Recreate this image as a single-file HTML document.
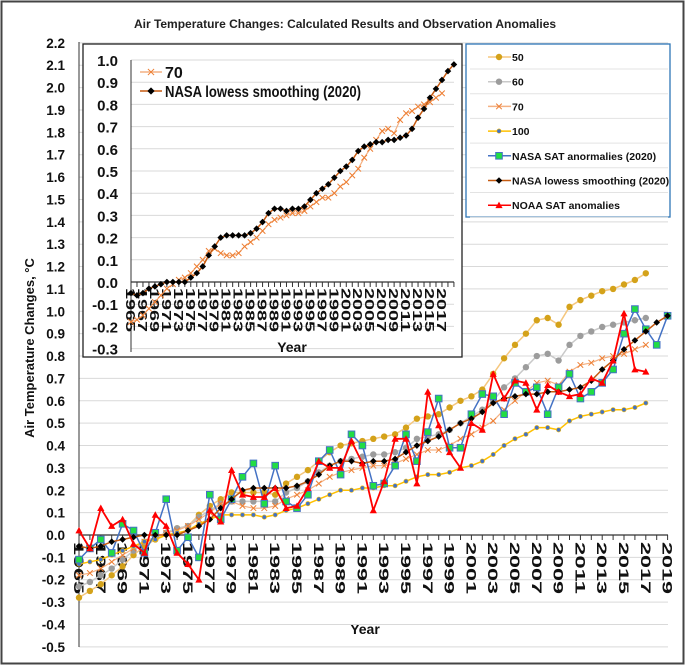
<!DOCTYPE html>
<html><head><meta charset="utf-8"><style>
html,body{margin:0;padding:0;background:#fff}
svg{display:block;font-family:"Liberation Sans",Arial,sans-serif}
</style></head><body>
<svg id="chart" width="685" height="665" viewBox="0 0 685 665" xmlns="http://www.w3.org/2000/svg">
<rect x="1.5" y="1.5" width="682" height="662" fill="#fff" stroke="#444" stroke-width="2"/>
<text x="345" y="28" text-anchor="middle" font-size="12" font-weight="bold" fill="#222">Air Temperature Changes: Calculated Results and Observation Anomalies</text>
<text transform="translate(34,348) rotate(-90)" text-anchor="middle" font-size="13" font-weight="bold" fill="#111">Air Temperature Changes, °C</text>
<text x="365" y="634" text-anchor="middle" font-size="14" font-weight="bold" fill="#111">Year</text>
<g id="main"></g>
<g id="inset"></g>
<g id="legend"></g>
</svg>
<script>
const s50 = [-0.28,-0.25,-0.22,-0.18,-0.14,-0.09,-0.05,-0.02,0.01,0.03,0.04,0.09,0.13,0.16,0.19,0.19,0.19,0.19,0.18,0.23,0.26,0.29,0.33,0.37,0.40,0.41,0.42,0.43,0.44,0.45,0.48,0.52,0.53,0.54,0.57,0.60,0.62,0.65,0.72,0.79,0.85,0.90,0.96,0.97,0.94,1.02,1.05,1.07,1.09,1.10,1.12,1.14,1.17];
const s60 = [-0.23,-0.21,-0.18,-0.15,-0.11,-0.07,-0.03,-0.01,0.01,0.03,0.04,0.08,0.11,0.14,0.15,0.15,0.15,0.15,0.15,0.19,0.21,0.24,0.28,0.31,0.33,0.34,0.35,0.36,0.36,0.37,0.39,0.43,0.44,0.45,0.47,0.50,0.53,0.56,0.60,0.66,0.70,0.75,0.80,0.81,0.78,0.85,0.89,0.91,0.93,0.94,0.95,0.96,0.97];
const s70 = [-0.18,-0.17,-0.15,-0.12,-0.09,-0.06,-0.03,-0.01,0.01,0.02,0.04,0.07,0.10,0.14,0.15,0.13,0.12,0.12,0.13,0.16,0.18,0.20,0.23,0.26,0.28,0.29,0.30,0.31,0.31,0.32,0.34,0.36,0.38,0.38,0.40,0.43,0.45,0.48,0.51,0.56,0.60,0.64,0.68,0.69,0.67,0.73,0.76,0.77,0.79,0.80,0.81,0.83,0.85];
const s100 = [-0.13,-0.12,-0.11,-0.09,-0.07,-0.05,-0.03,-0.02,0.00,0.01,0.02,0.05,0.07,0.09,0.09,0.09,0.09,0.08,0.09,0.11,0.12,0.14,0.16,0.18,0.20,0.20,0.21,0.21,0.22,0.22,0.24,0.26,0.27,0.27,0.28,0.30,0.31,0.33,0.36,0.40,0.43,0.45,0.48,0.48,0.47,0.51,0.53,0.54,0.55,0.56,0.56,0.57,0.59];
const nasaSat = [-0.11,-0.06,-0.02,-0.08,0.05,0.02,-0.08,0.01,0.16,-0.07,-0.01,-0.10,0.18,0.07,0.16,0.26,0.32,0.14,0.31,0.15,0.12,0.18,0.33,0.38,0.27,0.45,0.40,0.22,0.23,0.31,0.45,0.33,0.46,0.61,0.39,0.39,0.54,0.63,0.62,0.54,0.68,0.64,0.66,0.54,0.66,0.72,0.61,0.64,0.68,0.74,0.90,1.01,0.92,0.85,0.98];
const lowess = [-0.05,-0.06,-0.05,-0.03,-0.02,-0.01,0.00,0.00,0.00,0.00,0.02,0.04,0.07,0.12,0.16,0.20,0.21,0.21,0.21,0.21,0.22,0.24,0.27,0.31,0.33,0.33,0.32,0.33,0.33,0.34,0.37,0.40,0.42,0.44,0.47,0.50,0.52,0.55,0.59,0.61,0.62,0.63,0.63,0.64,0.64,0.65,0.66,0.69,0.74,0.78,0.83,0.87,0.91,0.95,0.98];
const noaa = [0.02,-0.06,0.12,0.04,0.07,-0.04,-0.08,0.09,0.04,-0.08,-0.13,-0.20,0.11,0.06,0.29,0.18,0.17,0.17,0.21,0.12,0.13,0.21,0.33,0.30,0.30,0.42,0.32,0.11,0.24,0.43,0.43,0.23,0.64,0.49,0.37,0.30,0.50,0.47,0.72,0.61,0.69,0.68,0.56,0.67,0.64,0.62,0.63,0.70,0.68,0.78,0.99,0.74,0.73];
const yTicksMain = [2.2,2.1,2.0,1.9,1.8,1.7,1.6,1.5,1.4,1.3,1.2,1.1,1.0,0.9,0.8,0.7,0.6,0.5,0.4,0.3,0.2,0.1,0.0,-0.1,-0.2,-0.3,-0.4,-0.5];
const yTicksInset = [1.0,0.9,0.8,0.7,0.6,0.5,0.4,0.3,0.2,0.1,0.0,-0.1,-0.2,-0.3];
const xStart = 1965, xEnd = 2019;

const NS = "http://www.w3.org/2000/svg";
function mk(tag, attrs, parent){const e=document.createElementNS(NS,tag);for(const k in attrs)e.setAttribute(k,attrs[k]);parent.appendChild(e);return e;}
const X = yr => 79 + (yr - 1965) * 10.9;
const Y = v => 535 - v * 223.7;
const XI = yr => 131 + (yr - 1965) * 5.98;
const YI = v => 282 - v * 222;

const main = document.getElementById('main');
yTicksMain.forEach(v=>{
  const g = mk('line',{x1:79,x2:668,y1:Y(v),y2:Y(v),stroke:'#d9d9d9','stroke-width':1},main);
  
  
  const t = mk('text',{x:65,y:Y(v)+5,'text-anchor':'end','font-size':13.5,'font-weight':'bold',fill:'#111'},main);
  t.textContent = v.toFixed(1);
  
  
});
mk('line',{x1:79,x2:79,y1:42,y2:647,stroke:'#333','stroke-width':1},main);
mk('line',{x1:79,x2:668,y1:535,y2:535,stroke:'#333','stroke-width':1.3},main);
for(let yr=xStart; yr<=xEnd; yr++){
  mk('line',{x1:X(yr),x2:X(yr),y1:535,y2:540,stroke:'#333'},main);
  if((yr-xStart)%2===0){
    const t = mk('text',{transform:`translate(${X(yr)-5},542) rotate(90)`,'font-size':14,'font-weight':'bold',fill:'#111',textLength:52,lengthAdjust:'spacingAndGlyphs'},main);
    t.textContent = yr;
    
    
  }
}

function marker(type,x,y,parent,sc){
  sc = sc||1;
  if(type==='gold') return mk('circle',{cx:x,cy:y,r:3.2*sc,fill:'#D4A21A'},parent);
  if(type==='gray') return mk('circle',{cx:x,cy:y,r:3.2*sc,fill:'#9c9c9c'},parent);
  if(type==='x'){const s=2.8*sc;return mk('path',{d:`M${x-s},${y-s}L${x+s},${y+s}M${x-s},${y+s}L${x+s},${y-s}`,stroke:'#ED7D31','stroke-width':1},parent);}
  if(type==='dot') return mk('circle',{cx:x,cy:y,r:2.2*sc,fill:'#4472C4',stroke:'#FFC000','stroke-width':0.6},parent);
  if(type==='sq') return mk('rect',{x:x-3.3*sc,y:y-3.3*sc,width:6.6*sc,height:6.6*sc,fill:'#22DD44',stroke:'#4472C4','stroke-width':1},parent);
  if(type==='dia'){const s=3.3*sc;return mk('path',{d:`M${x},${y-s}L${x+s},${y}L${x},${y+s}L${x-s},${y}Z`,fill:'#000'},parent);}
  if(type==='tri'){const s=3.6*sc;return mk('path',{d:`M${x},${y-s}L${x+s},${y+s*0.8}L${x-s},${y+s*0.8}Z`,fill:'#FF0000'},parent);}
}
function series(data, start, xf, yf, color, width, mtype, name, parent, sc){
  const g = mk('g',{},parent);
  
  
  const pts = data.map((v,i)=>`${xf(start+i).toFixed(1)},${yf(v).toFixed(1)}`).join(' ');
  mk('polyline',{points:pts,fill:'none',stroke:color,'stroke-width':width,'stroke-linejoin':'round'},g);
  data.forEach((v,i)=>{const m=marker(mtype,xf(start+i),yf(v),g,sc);
    
    });
}
series(s50,1965,X,Y,'#F5C77E',1.5,'gold','series-50',main);
series(s60,1965,X,Y,'#C9C9C9',1.5,'gray','series-60',main);
series(s70,1965,X,Y,'#F4B183',1.2,'x','series-70',main);
series(s100,1965,X,Y,'#FFC000',1.5,'dot','series-100',main);
series(nasaSat,1965,X,Y,'#4472C4',1.5,'sq','series-nasa-sat',main);
series(lowess,1965,X,Y,'#C55A11',1.5,'dia','series-nasa-lowess',main);
series(noaa,1965,X,Y,'#FF0000',1.8,'tri','series-noaa-sat',main);

const inset = document.getElementById('inset');
const ib = mk('rect',{x:83,y:44,width:379,height:313,fill:'#fff',stroke:'#222','stroke-width':1.3},inset);


yTicksInset.forEach(v=>{
  mk('line',{x1:131,x2:454,y1:YI(v),y2:YI(v),stroke:'#d9d9d9'},inset);
  const t = mk('text',{x:118,y:YI(v)+6,'text-anchor':'end','font-size':15,'font-weight':'bold',fill:'#111'},inset);
  t.textContent = v.toFixed(1);
  
  
});
mk('line',{x1:131,x2:131,y1:60,y2:352,stroke:'#333'},inset);
mk('line',{x1:131,x2:454,y1:282,y2:282,stroke:'#333','stroke-width':1.3},inset);
for(let yr=xStart; yr<=xEnd; yr++){
  mk('line',{x1:XI(yr),x2:XI(yr),y1:282,y2:287,stroke:'#333'},inset);
  if((yr-xStart)%2===0 && yr<=2017){
    const t = mk('text',{transform:`translate(${XI(yr)-5},288) rotate(90)`,'font-size':13,'font-weight':'bold',fill:'#111',textLength:44,lengthAdjust:'spacingAndGlyphs'},inset);
    t.textContent = yr;
    
    
  }
}
const iy = mk('text',{x:292,y:352,'text-anchor':'middle','font-size':14,'font-weight':'bold',fill:'#111'},inset);
iy.textContent='Year';


series(s70,1965,XI,YI,'#F4B183',1.2,'x','inset-series-70',inset);
series(lowess,1965,XI,YI,'#C55A11',1.5,'dia','inset-series-lowess',inset);
[['x','#F4B183','70',72],['dia','#C55A11','NASA lowess smoothing (2020)',91]].forEach(([m,c,l,y])=>{
  const g = mk('g',{},inset);
  
  
  mk('line',{x1:140,x2:162,y1:y,y2:y,stroke:c,'stroke-width':1.5},g);
  marker(m,151,y,g,1.1);
  const t = mk('text',{x:165,y:y+6,'font-size':16,'font-weight':'bold',fill:'#111'},g);
  t.textContent=l;
  if(l.length>5){t.setAttribute('textLength',196);t.setAttribute('lengthAdjust','spacingAndGlyphs');}
});

const legend = document.getElementById('legend');
const lb = mk('rect',{x:466,y:44,width:204,height:173,fill:'#fff',stroke:'#2E75B6','stroke-width':1.3},legend);


const legItems = [['gold','#F5C77E','50'],['gray','#C9C9C9','60'],['x','#F4B183','70'],['dot','#FFC000','100'],['sq','#4472C4','NASA SAT anormalies (2020)'],['dia','#C55A11','NASA lowess smoothing (2020)'],['tri','#FF0000','NOAA SAT anomalies']];
legItems.forEach(([m,c,l],i)=>{
  const y = 57 + i*24.7;
  mk('line',{x1:470,x2:668,y1:y+12,y2:y+12,stroke:'#e3e3e3'},legend);
  const g = mk('g',{},legend);
  
  
  mk('line',{x1:488,x2:511,y1:y,y2:y,stroke:c,'stroke-width':1.5},g);
  marker(m,499,y,g);
  const t = mk('text',{x:512,y:y+4,'font-size':10.5,'font-weight':'bold',fill:'#111'},g);
  t.textContent=l;
});
</script>
</body></html>
